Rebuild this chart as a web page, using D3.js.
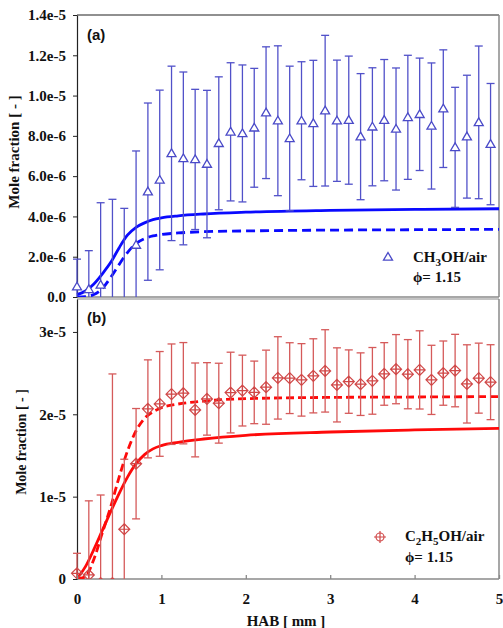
<!DOCTYPE html>
<html>
<head>
<meta charset="utf-8">
<script src="https://cdn.jsdelivr.net/npm/d3@7"></script>
<style>
  body { margin: 0; background: #fff; }
  svg { display: block; }
  text { font-family: "Liberation Serif", "Times New Roman", serif; font-weight: bold; fill: #111; }
  text.tag { font-family: "Liberation Sans", Arial, sans-serif; }
</style>
</head>
<body>
<svg id="chart" width="503" height="628"></svg>
<script>
// Height above burner [mm] of the measured points (both flames)
const hab = [0.00, 0.14, 0.28, 0.42, 0.56, 0.70, 0.84, 0.98, 1.12, 1.26, 1.40, 1.54,
             1.68, 1.82, 1.96, 2.10, 2.24, 2.38, 2.52, 2.66, 2.80, 2.94, 3.08, 3.22,
             3.36, 3.50, 3.64, 3.78, 3.92, 4.06, 4.20, 4.34, 4.48, 4.62, 4.76, 4.90];

// (a) CH3OH/air, mole fraction in units of 1e-6
const ch3ohMean = [0.51, 0.38, 0.60, -0.30, -0.30, 2.58, 5.23, 5.81, 7.13, 6.88, 6.83, 6.60,
                   7.63, 8.20, 8.12, 8.40, 9.15, 8.75, 7.87, 8.75, 8.62, 9.25, 8.75, 8.78,
                   7.96, 8.45, 8.78, 8.34, 8.92, 9.07, 8.49, 9.35, 7.43, 7.96, 8.67, 7.59];
const ch3ohErr  = [1.37, 1.92, 4.08, 5.15, 4.70, 4.67, 4.40, 4.46, 4.33, 4.29, 3.48, 3.66,
                   3.30, 3.43, 3.40, 2.95, 3.27, 3.72, 3.59, 2.93, 3.13, 3.74, 3.01, 3.18,
                   3.13, 2.93, 3.01, 3.03, 3.08, 2.79, 3.13, 2.92, 2.98, 3.05, 3.79, 3.01];

// (b) C2H5OH/air, mole fraction in units of 1e-6
const c2h5ohMean = [0.69, 0.49, -0.50, -0.50, 6.04, 14.00, 20.66, 21.26, 22.44, 22.56, 20.53, 21.87,
                    21.35, 22.64, 22.88, 22.66, 23.29, 24.42, 24.39, 24.18, 24.67, 25.27, 23.57, 23.97,
                    23.66, 24.06, 24.90, 25.48, 24.87, 25.39, 24.18, 25.00, 25.31, 23.69, 24.39, 23.90];
const c2h5ohErr  = [2.43, 9.00, 10.70, 25.40, 8.50, 6.70, 5.95, 6.36, 6.10, 6.15, 5.70, 4.40,
                    4.85, 4.90, 4.30, 3.80, 4.50, 5.00, 4.30, 4.40, 4.50, 5.00, 4.50, 3.85,
                    3.80, 4.05, 3.80, 4.20, 4.20, 4.75, 4.20, 3.90, 4.40, 4.75, 4.25, 4.55];

// Model profiles (units of 1e-6)
const modelHab = [0.0, 0.1, 0.2, 0.3, 0.4, 0.5, 0.6, 0.7, 0.8, 0.9, 1.0, 1.2, 1.5, 2.0, 3.0, 4.0, 5.0];
const ch3ohSolid   = [0.12, 0.30, 0.65, 1.15, 1.72, 2.45, 3.08, 3.46, 3.68, 3.84, 3.93, 4.03, 4.12, 4.21, 4.30, 4.35, 4.38];
const ch3ohDashed  = [0.00, 0.02, 0.12, 0.42, 0.98, 1.62, 2.22, 2.66, 2.90, 3.03, 3.10, 3.18, 3.24, 3.28, 3.32, 3.34, 3.36];
const c2h5ohSolid  = [0.05, 1.50, 3.60, 5.90, 8.20, 10.40, 12.40, 14.00, 15.10, 15.80, 16.20, 16.60, 17.00, 17.45, 17.85, 18.10, 18.30];
const c2h5ohDashed = [0.00, 0.30, 2.40, 5.60, 8.80, 12.40, 15.60, 18.00, 19.50, 20.30, 20.80, 21.25, 21.60, 21.90, 22.05, 22.10, 22.15];

// Axis ticks
const xTicks = [0, 1, 2, 3, 4, 5];
const yTicksA = [0, 2, 4, 6, 8, 10, 12, 14];
const yLabelsA = ["0.0", "2.0e-6", "4.0e-6", "6.0e-6", "8.0e-6", "1.0e-5", "1.2e-5", "1.4e-5"];
const yTicksB = [0, 10, 20, 30];
const yLabelsB = ["0", "1e-5", "2e-5", "3e-5"];

const svg = d3.select("#chart");
const x = d3.scaleLinear().domain([0, 5]).range([77, 499]);

function panel(opt) {
  const y = d3.scaleLinear().domain(opt.yDomain).range([opt.bottom, opt.top]);
  const g = svg.append("g");
  const clipId = "clip-" + opt.id;
  // clip only above/below the plot; markers at HAB = 0 may straddle the axis
  svg.append("clipPath").attr("id", clipId)
    .append("rect").attr("x", 60).attr("y", opt.top)
    .attr("width", 443).attr("height", opt.bottom - opt.top);

  // frame
  g.append("line").attr("x1", x(0)).attr("x2", x(5)).attr("y1", opt.top).attr("y2", opt.top)
    .attr("stroke", opt.topColor).attr("stroke-width", 1.2);
  g.append("line").attr("x1", x(5)).attr("x2", x(5)).attr("y1", opt.top).attr("y2", opt.bottom)
    .attr("stroke", "#8a8a8a").attr("stroke-width", 1.5);
  g.append("line").attr("x1", x(0)).attr("x2", x(5)).attr("y1", opt.bottom).attr("y2", opt.bottom)
    .attr("stroke", "#8a8a8a").attr("stroke-width", 1.5);

  // y axis
  const yAxis = d3.axisLeft(y).tickValues(opt.yTicks)
    .tickFormat((d, i) => opt.yLabels[i]).tickSizeInner(4).tickSizeOuter(0).tickPadding(7);
  const ya = g.append("g").attr("transform", `translate(${x(0)},0)`).call(yAxis);
  ya.select(".domain").attr("stroke", "#222").attr("stroke-width", 1.2);
  ya.selectAll(".tick line").attr("stroke", "#222");
  ya.selectAll(".tick text").attr("font-size", 15).attr("font-family", null).attr("fill", "#111");

  // y axis title
  g.append("text")
    .attr("transform", `translate(${opt.titleX},${opt.titleY}) rotate(-90)`)
    .attr("text-anchor", "middle").attr("font-size", opt.titleSize)
    .text("Mole fraction [ - ]");

  // panel tag
  g.append("text").attr("class", "tag").attr("x", 87).attr("y", opt.tagY)
    .attr("font-size", 15).text(opt.tag);

  const plot = g.append("g").attr("clip-path", `url(#${clipId})`);

  // model curves
  const line = vals => d3.line().x((d, i) => x(modelHab[i])).y(d => y(d)).curve(d3.curveMonotoneX)(vals);
  plot.append("path").attr("d", line(opt.solid)).attr("fill", "none")
    .attr("stroke", opt.lineColor).attr("stroke-width", 2.8);
  plot.append("path").attr("d", line(opt.dashed)).attr("fill", "none")
    .attr("stroke", opt.lineColor).attr("stroke-width", 2.8).attr("stroke-dasharray", opt.dash);

  // error bars
  const pts = hab.map((h, i) => ({ h, m: opt.mean[i], e: opt.err[i] }));
  const eb = plot.append("g").attr("stroke", opt.barColor).attr("stroke-width", 1.3).attr("fill", "none");
  pts.forEach(p => {
    const cx = x(p.h), y0 = y(p.m - p.e), y1 = y(p.m + p.e);
    eb.append("line").attr("x1", cx).attr("x2", cx).attr("y1", y0).attr("y2", y1);
    eb.append("line").attr("x1", cx - 4).attr("x2", cx + 4).attr("y1", y1).attr("y2", y1);
    eb.append("line").attr("x1", cx - 4).attr("x2", cx + 4).attr("y1", y0).attr("y2", y0);
  });

  // markers
  const mk = plot.append("g");
  pts.forEach(p => opt.marker(mk, x(p.h), y(p.m)));

  return { g, y };
}

function triangle(sel, cx, cy) {
  sel.append("path")
    .attr("d", `M${cx},${cy - 4.5}L${cx + 4.5},${cy + 3.2}L${cx - 4.5},${cy + 3.2}Z`)
    .attr("fill", "#fff").attr("stroke", "#4a4ac8").attr("stroke-width", 1.3);
}
function diamondCross(sel, cx, cy) {
  const r = 5.5;
  sel.append("path")
    .attr("d", `M${cx},${cy - r}L${cx + r},${cy}L${cx},${cy + r}L${cx - r},${cy}Z M${cx - r},${cy}H${cx + r} M${cx},${cy - r}V${cy + r}`)
    .attr("fill", "none").attr("stroke", "#d04848").attr("stroke-width", 1.2);
}

// (a) methanol flame
panel({
  id: "a", top: 15, bottom: 297, yDomain: [0, 14], yTicks: yTicksA, yLabels: yLabelsA,
  topColor: "#222", titleX: 19, titleY: 152, titleSize: 15, tag: "(a)", tagY: 40,
  mean: ch3ohMean, err: ch3ohErr, solid: ch3ohSolid, dashed: ch3ohDashed,
  lineColor: "#0a0aff", barColor: "#5151c9", dash: "9,5", marker: triangle
});

// (b) ethanol flame
panel({
  id: "b", top: 299, bottom: 579, yDomain: [0, 34], yTicks: yTicksB, yLabels: yLabelsB,
  topColor: "#8a8a8a", titleX: 26, titleY: 442, titleSize: 14, tag: "(b)", tagY: 323,
  mean: c2h5ohMean, err: c2h5ohErr, solid: c2h5ohSolid, dashed: c2h5ohDashed,
  lineColor: "#ff0a0a", barColor: "#d55a5a", dash: "8,4", marker: diamondCross
});

// shared x axis under panel (b)
const xAxis = d3.axisBottom(x).tickValues(xTicks).tickFormat(d3.format("d"))
  .tickSizeInner(-4).tickSizeOuter(0).tickPadding(14);
const xa = svg.append("g").attr("transform", "translate(0,579)").call(xAxis);
xa.select(".domain").remove();
xa.selectAll(".tick line").attr("stroke", "#8a8a8a").attr("stroke-width", 1.3);
xa.selectAll(".tick text").attr("font-size", 15).attr("font-family", null).attr("fill", "#111");

svg.append("text").attr("x", 286).attr("y", 626).attr("text-anchor", "middle")
  .attr("font-size", 15).text("HAB [ mm ]");

// legends
function legendText(x0, y0, parts) {
  const t = svg.append("text").attr("x", x0).attr("y", y0).attr("font-size", 15);
  parts.forEach(p => {
    const s = t.append("tspan").text(p.t);
    if (p.sub) s.attr("font-size", 11).attr("dy", 4);
    if (p.up) s.attr("dy", -4);
  });
}
triangle(svg, 388, 257);
legendText(413, 262, [{ t: "CH" }, { t: "3", sub: true }, { t: "OH/air", up: true }]);
svg.append("text").attr("x", 413).attr("y", 282).attr("font-size", 15).text("\u03D5= 1.15");

const lg = svg.append("g").attr("fill", "none").attr("stroke", "#d04848").attr("stroke-width", 1.2);
lg.append("circle").attr("cx", 380).attr("cy", 537).attr("r", 4);
lg.append("path").attr("d", "M374,537H386M380,531V543");
legendText(405, 541, [{ t: "C" }, { t: "2", sub: true }, { t: "H", up: true }, { t: "5", sub: true }, { t: "OH/air", up: true }]);
svg.append("text").attr("x", 405).attr("y", 562).attr("font-size", 15).text("\u03D5= 1.15");
</script>
</body>
</html>
